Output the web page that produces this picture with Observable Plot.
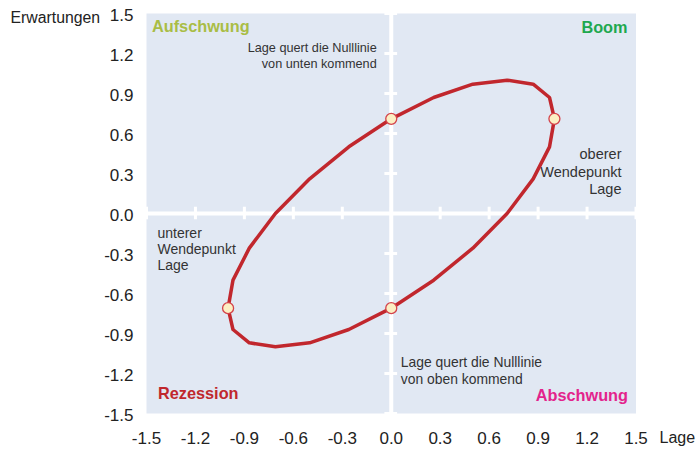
<!DOCTYPE html>
<html>
<head>
<meta charset="utf-8">
<script src="https://cdn.jsdelivr.net/npm/d3@7"></script>
<script src="https://cdn.jsdelivr.net/npm/@observablehq/plot@0.6"></script>
<style>
  html, body { margin: 0; padding: 0; background: #ffffff; }
  #chart svg { display: block; font-family: "Liberation Sans", Arial, sans-serif; }
</style>
</head>
<body>
<div id="chart"></div>
<script>
// Cycle: Lage (x) vs. Erwartungen (y)
const lage =        [0, 0.26, 0.5, 0.71, 0.87, 0.97, 1.0, 0.97, 0.87, 0.71, 0.5, 0.26, 0, -0.26, -0.5, -0.71, -0.87, -0.97, -1.0, -0.97, -0.87, -0.71, -0.5, -0.26, 0];
const erwartungen = [0.71, 0.87, 0.97, 1.0, 0.97, 0.87, 0.71, 0.5, 0.26, 0, -0.26, -0.5, -0.71, -0.87, -0.97, -1.0, -0.97, -0.87, -0.71, -0.5, -0.26, 0, 0.26, 0.5, 0.71];

// Marked points (zero crossings and turning points)
const markLage =        [0, 1.0, 0, -1.0];
const markErwartungen = [0.71, 0.71, -0.71, -0.71];

// Tick values and labels
const tickValues = [-1.5, -1.2, -0.9, -0.6, -0.3, 0, 0.3, 0.6, 0.9, 1.2, 1.5];
const tickLabels = ["-1.5", "-1.2", "-0.9", "-0.6", "-0.3", "0.0", "0.3", "0.6", "0.9", "1.2", "1.5"];

// Texts
const quadrantNames = ["Aufschwung", "Boom", "Rezession", "Abschwung"];
const noteTopText = "Lage quert die Nulllinie\nvon unten kommend";
const noteBottomText = "Lage quert die Nulllinie\nvon oben kommend";
const noteUpperTurn = "oberer\nWendepunkt\nLage";
const noteLowerTurn = "unterer\nWendepunkt\nLage";
const xTitle = "Lage";
const yTitle = "Erwartungen";

const curve = lage.map((x, i) => ({x, y: erwartungen[i]}));
const marks = markLage.map((x, i) => ({x, y: markErwartungen[i]}));
const fmt = d => tickLabels[tickValues.indexOf(d)] ?? String(d);

const bg = "#e1e8f3";
const textCol = "#333333";

const chart = Plot.plot({
  width: 696,
  height: 450,
  marginLeft: 146,
  marginRight: 60.5,
  marginTop: 13,
  marginBottom: 37,
  style: {background: "#ffffff", fontFamily: "'Liberation Sans', Arial, sans-serif", color: "#222"},
  x: {domain: [-1.5, 1.5], axis: null},
  y: {domain: [-1.5, 1.5], axis: null},
  marks: [
    Plot.frame({fill: bg, stroke: null}),
    // white zero lines
    Plot.ruleX([0], {stroke: "white", strokeWidth: 4}),
    Plot.ruleY([0], {stroke: "white", strokeWidth: 4}),
    // small ticks on the zero lines
    Plot.ruleY(tickValues, {y: d => d, x1: -0.039, x2: 0.039, stroke: "white", strokeWidth: 3}),
    Plot.ruleX(tickValues, {x: d => d, y1: -0.047, y2: 0.047, stroke: "white", strokeWidth: 3}),
    // axes (labels only)
    Plot.axisX({ticks: tickValues, tickFormat: fmt, tickSize: 0, tickPadding: 18, fontSize: 17, label: null, fill: "#222"}),
    Plot.axisY({ticks: tickValues, tickFormat: fmt, tickSize: 0, tickPadding: 13, fontSize: 17, dy: 2, label: null, fill: "#222"}),
    // axis titles
    Plot.text([yTitle], {frameAnchor: "top-left", text: d => d, dx: -136, dy: -2, textAnchor: "start", fontSize: 15.8, fill: "#222"}),
    Plot.text([xTitle], {frameAnchor: "bottom-right", text: d => d, dx: 23.5, dy: 29, textAnchor: "start", fontSize: 16, fill: "#222"}),
    // quadrant names
    Plot.text([quadrantNames[0]], {frameAnchor: "top-left", text: d => d, dx: 5.5, dy: 7, textAnchor: "start", fontSize: 16.3, fontWeight: "bold", fill: "#a9bd45"}),
    Plot.text([quadrantNames[1]], {frameAnchor: "top-right", text: d => d, dx: -8.5, dy: 8, textAnchor: "end", fontSize: 16.3, fontWeight: "bold", fill: "#1ea84f"}),
    Plot.text([quadrantNames[2]], {frameAnchor: "bottom-left", text: d => d, dx: 11.5, dy: -15, textAnchor: "start", fontSize: 16.3, fontWeight: "bold", fill: "#c0272d"}),
    Plot.text([quadrantNames[3]], {frameAnchor: "bottom-right", text: d => d, dx: -8, dy: -13, textAnchor: "end", fontSize: 16.3, fontWeight: "bold", fill: "#e3238c"}),
    // annotations
    Plot.text([noteTopText], {x: -0.089, y: 1.187, text: d => d, textAnchor: "end", fontSize: 12.7, lineHeight: 1.26, fill: textCol}),
    Plot.text([noteBottomText], {x: 0.058, y: -1.177, text: d => d, textAnchor: "start", fontSize: 13.9, lineHeight: 1.22, fill: textCol}),
    Plot.text([noteUpperTurn], {x: 1.411, y: 0.319, text: d => d, textAnchor: "end", fontSize: 14.5, lineHeight: 1.2, fill: textCol}),
    Plot.text([noteLowerTurn], {x: -1.433, y: -0.268, text: d => d, textAnchor: "start", fontSize: 14, lineHeight: 1.13, fill: textCol}),
    // cycle line
    Plot.line(curve, {x: "x", y: "y", stroke: "#c1272d", strokeWidth: 3.5, strokeLinejoin: "round"}),
    // marked points
    Plot.dot(marks, {x: "x", y: "y", r: 5.5, fill: "#fcefc3", stroke: "#d4434b", strokeWidth: 1.3})
  ]
});

document.getElementById("chart").appendChild(chart);
</script>
</body>
</html>
